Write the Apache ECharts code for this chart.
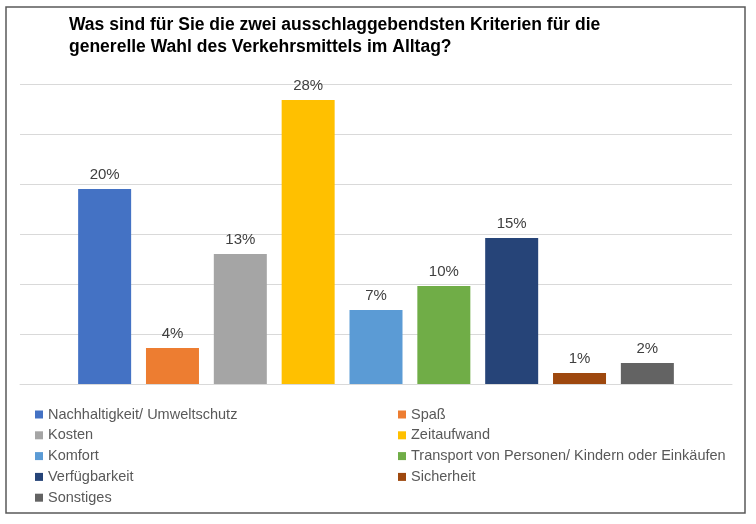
<!DOCTYPE html>
<html lang="de">
<head>
	<meta charset="UTF-8">
	<title>Kriterien Verkehrsmittel</title>
	<script src="https://cdn.jsdelivr.net/npm/echarts@6/dist/echarts.min.js"></script>
	<style>
		html, body { margin: 0; padding: 0; background: #fff; }
	</style>
</head>
<body>
	<div id="bar_chart" style="width: 756px;height:524px;"></div>

	<script type="text/javascript">
		// Werte in Prozent
		var kriterien = ['Nachhaltigkeit/ Umweltschutz', 'Spaß', 'Kosten', 'Zeitaufwand', 'Komfort',
			'Transport von Personen/ Kindern oder Einkäufen', 'Verfügbarkeit', 'Sicherheit', 'Sonstiges'];
		var anteile = [19.5, 3.6, 13.0, 28.4, 7.4, 9.8, 14.6, 1.1, 2.1];
		var farben = ['#4472C4', '#ED7D31', '#A5A5A5', '#FFC000', '#5B9BD5', '#70AD47', '#264478', '#9E480E', '#636363'];

		var legende_links = ['Nachhaltigkeit/ Umweltschutz', 'Kosten', 'Komfort', 'Verfügbarkeit', 'Sonstiges'];
		var legende_rechts = ['Spaß', 'Zeitaufwand', 'Transport von Personen/ Kindern oder Einkäufen', 'Sicherheit'];

		var schrift = '"Liberation Sans", Arial, sans-serif';

		var bar_series = [];
		for (var i = 0; i < kriterien.length; i++) {
			bar_series.push({
				name: kriterien[i],
				type: 'bar',
				data: [anteile[i]],
				barWidth: 53,
				barGap: '28%',
				itemStyle: { color: farben[i] },
				label: {
					show: true,
					position: 'top',
					distance: 7,
					color: '#404040',
					fontSize: 15,
					fontFamily: schrift,
					formatter: function (p) { return Math.round(p.value) + '%'; }
				}
			});
		}

		var legend_style = {
			orient: 'vertical',
			icon: 'rect',
			itemWidth: 8,
			itemHeight: 8,
			itemGap: 5.8,
			selectedMode: false,
			textStyle: { color: '#595959', fontSize: 14.5, fontFamily: schrift, lineHeight: 14 }
		};

		var bar_chart = echarts.init(document.getElementById('bar_chart'));
		var bar_option = {
			animation: false,
			title: {
				text: 'Was sind für Sie die zwei ausschlaggebendsten Kriterien für die\ngenerelle Wahl des Verkehrsmittels im Alltag?',
				left: 64,
				top: 9.5,
				textStyle: {
					fontSize: 17.5,
					fontWeight: 'bold',
					color: '#000',
					fontFamily: schrift,
					lineHeight: 22
				}
			},
			graphic: [{
				type: 'rect',
				shape: { x: 6, y: 7, width: 739, height: 506 },
				style: { fill: 'none', stroke: '#595959', lineWidth: 1.5 },
				silent: true
			}],
			legend: [
				Object.assign({ data: legende_links, left: 30, top: 402 }, legend_style),
				Object.assign({ data: legende_rechts, left: 393, top: 402 }, legend_style)
			],
			grid: {
				left: 20,
				right: 24,
				top: 84,
				bottom: 140
			},
			xAxis: {
				type: 'category',
				data: [''],
				axisLine: { lineStyle: { color: '#d9d9d9' } },
				axisTick: { show: false },
				axisLabel: { show: false }
			},
			yAxis: {
				type: 'value',
				min: 0,
				max: 30,
				interval: 5,
				axisLabel: { show: false },
				axisLine: { show: false },
				axisTick: { show: false },
				splitLine: { lineStyle: { color: '#d9d9d9' } }
			},
			series: bar_series
		};

		bar_chart.setOption(bar_option);
	</script>
</body>
</html>
